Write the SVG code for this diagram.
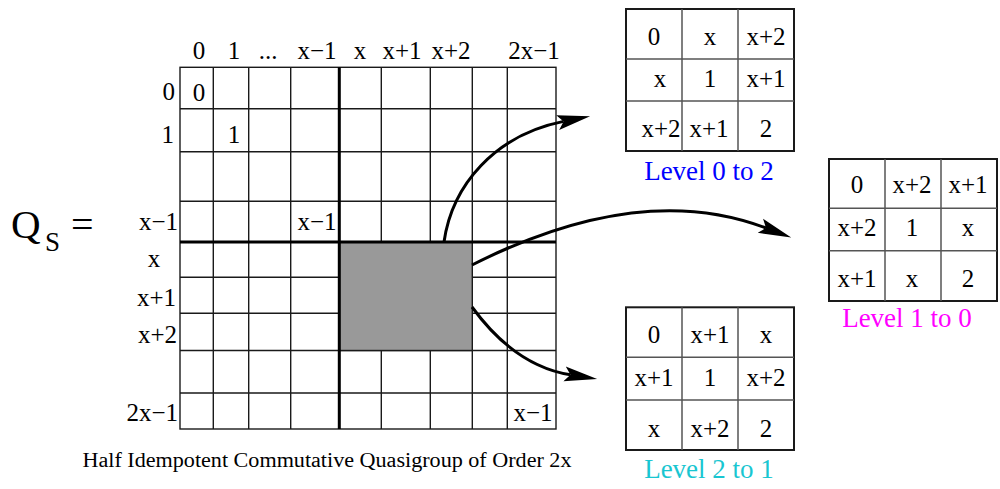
<svg xmlns="http://www.w3.org/2000/svg" width="1000" height="489" viewBox="0 0 1000 489">
<style>
text{font-family:"Liberation Serif","Times New Roman",serif;fill:#000}
.lbl{font-size:25px}
.mid{text-anchor:middle}
.end{text-anchor:end}
.cell{font-size:25px;text-anchor:middle}
.thin{stroke:#1a1a1a;stroke-width:1.4;fill:none}
.thick{stroke:#000;stroke-width:3;fill:none}
.tb{stroke:#555;stroke-width:1.5;fill:none}
.tbo{stroke:#1a1a1a;stroke-width:2;fill:#fff}
.conn{stroke:#000;stroke-width:3;fill:none}
.lvl{font-size:27px;text-anchor:middle}
</style>
<defs>
<marker id="ah" markerUnits="userSpaceOnUse" markerWidth="40" markerHeight="20" viewBox="0 -10 40 20" refX="6" refY="0" orient="auto">
<path d="M0,-7.5 L33,0 L0,7.5 L6,0 Z" fill="#000"/>
</marker>
</defs>
<rect width="1000" height="489" fill="#fff"/>

<g id="qs-label">
<text x="11" y="238" font-size="41">Q</text>
<text x="45" y="251" font-size="27">S</text>
<text x="71" y="238" font-size="40">=</text>
</g>

<g id="main-grid">
<rect x="180" y="67.3" width="376" height="361.7" class="thin"/>
<path class="thin" d="M213.3,67.3V429M248.7,67.3V429M290.7,67.3V429M381.3,67.3V429M430.3,67.3V429M472.3,67.3V429M507.3,67.3V429
M180,108.7H556M180,151.7H556M180,201.3H556M180,277.3H556M180,313.3H556M180,350.5H556M180,393H556"/>
<rect x="339.3" y="242" width="133" height="108.5" fill="#999" stroke="#1a1a1a" stroke-width="1.4"/>
<path class="thick" d="M339.3,67.3V429M180,242H556"/>
<g class="lbl mid">
<text x="199" y="59">0</text>
<text x="234" y="59">1</text>
<text x="268" y="59">...</text>
<text x="317" y="59">x−1</text>
<text x="360" y="59">x</text>
<text x="402" y="59">x+1</text>
<text x="451" y="59">x+2</text>
<text x="534" y="59">2x−1</text>
</g>
<g class="lbl end">
<text x="175" y="100">0</text>
<text x="174" y="143">1</text>
<text x="178" y="230">x−1</text>
<text x="176" y="306">x+1</text>
<text x="177" y="343">x+2</text>
<text x="178" y="421">2x−1</text>
</g>
<text class="lbl mid" x="154" y="267">x</text>
<g class="lbl mid">
<text x="199" y="101">0</text>
<text x="234" y="143">1</text>
<text x="317" y="230">x−1</text>
<text x="533" y="421">x−1</text>
</g>
</g>

<g id="table-0-2">
<rect x="626" y="9" width="168" height="142" class="tbo"/>
<path class="tb" d="M682,9V151M738,9V151M626,59H794M626,101H794"/>
<text class="cell" x="654" y="45">0</text>
<text class="cell" x="710" y="45">x</text>
<text class="cell" x="766" y="45">x+2</text>
<text class="cell" x="660" y="87">x</text>
<text class="cell" x="710" y="87">1</text>
<text class="cell" x="766" y="87">x+1</text>
<text class="cell" x="661" y="137">x+2</text>
<text class="cell" x="709" y="137">x+1</text>
<text class="cell" x="766" y="137">2</text>
<text class="lvl" x="709" y="180" style="fill:#0000ff">Level 0 to 2</text>
</g>

<g id="table-1-0">
<rect x="829" y="159" width="168" height="142" class="tbo"/>
<path class="tb" d="M885,159V301M941,159V301M829,208.3H997M829,250.7H997"/>
<text class="cell" x="857" y="193">0</text>
<text class="cell" x="912" y="193">x+2</text>
<text class="cell" x="968" y="193">x+1</text>
<text class="cell" x="857" y="236">x+2</text>
<text class="cell" x="912" y="236">1</text>
<text class="cell" x="968" y="236">x</text>
<text class="cell" x="857" y="287">x+1</text>
<text class="cell" x="912" y="287">x</text>
<text class="cell" x="968" y="287">2</text>
<text class="lvl" x="907" y="327" style="fill:#ff00ff">Level 1 to 0</text>
</g>

<g id="table-2-1">
<rect x="626" y="307.3" width="168" height="142.7" class="tbo"/>
<path class="tb" d="M682,307.3V450M738,307.3V450M626,357.3H794M626,400H794"/>
<text class="cell" x="654" y="343">0</text>
<text class="cell" x="710" y="343">x+1</text>
<text class="cell" x="766" y="343">x</text>
<text class="cell" x="654" y="386">x+1</text>
<text class="cell" x="710" y="386">1</text>
<text class="cell" x="766" y="386">x+2</text>
<text class="cell" x="654" y="437">x</text>
<text class="cell" x="710" y="437">x+2</text>
<text class="cell" x="766" y="437">2</text>
<text class="lvl" x="709" y="478" style="fill:#19c6d1">Level 2 to 1</text>
</g>

<g id="connectors">
<path class="conn" marker-end="url(#ah)" d="M444,242 C452,185 495,135 563.6,121.4"/>
<path class="conn" marker-end="url(#ah)" d="M472,265 Q640,180 766,228"/>
<path class="conn" marker-end="url(#ah)" d="M472,307 Q515,366 570.5,374.8"/>
</g>

<g id="caption">
<text x="327" y="467" font-size="20" text-anchor="middle" textLength="489" lengthAdjust="spacingAndGlyphs">Half Idempotent Commutative Quasigroup of Order 2x</text>
</g>
</svg>
